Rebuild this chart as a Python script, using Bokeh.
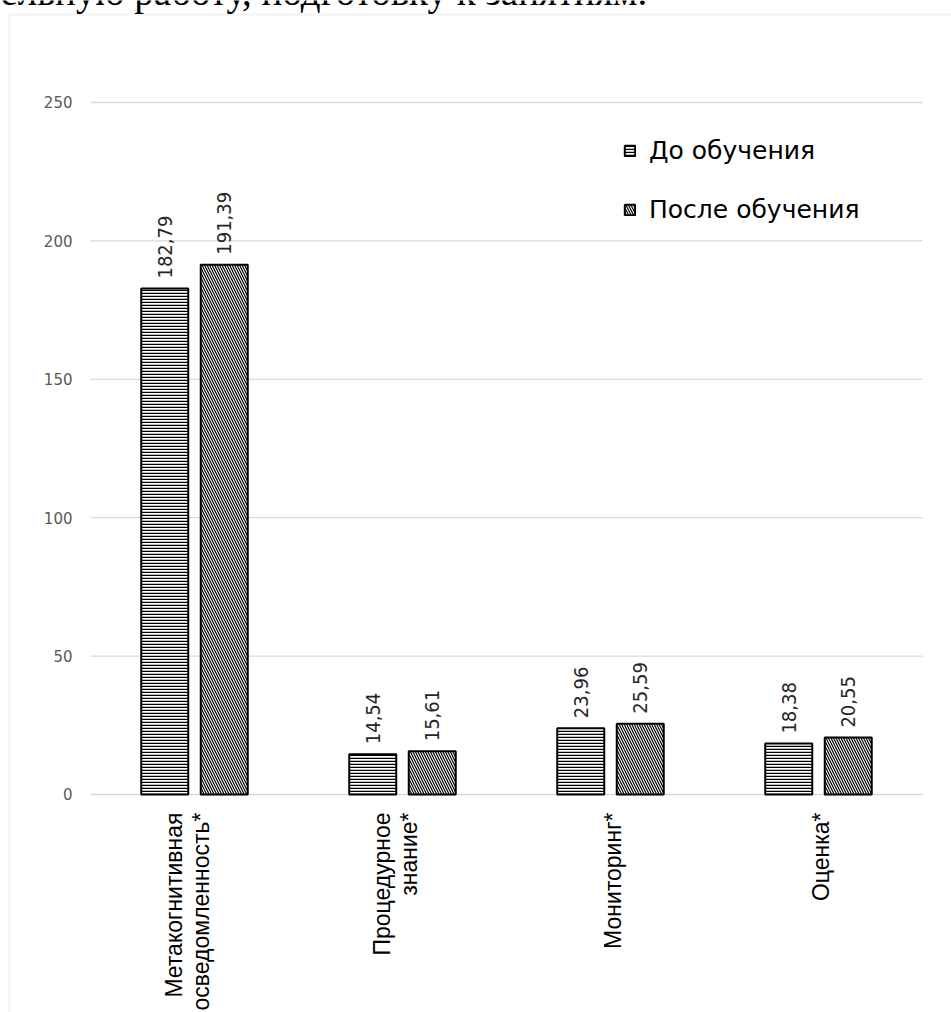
from math import pi
from bokeh.plotting import figure
from bokeh.models import (Range1d, ColumnDataSource, Legend, LegendItem, Label, BoxAnnotation)
from bokeh.core.properties import value
from bokeh.embed import file_html
from bokeh.resources import INLINE

# ---- data ----
categories = ["Метакогнитивная осведомленность*", "Процедурное знание*", "Мониторинг*", "Оценка*"]
category_labels = ["Метакогнитивная\nосведомленность*", "Процедурное\nзнание*", "Мониторинг*", "Оценка*"]
series_names = ["До обучения", "После обучения"]
before = [182.79, 14.54, 23.96, 18.38]
after = [191.39, 15.61, 25.59, 20.55]
before_labels = ["182,79", "14,54", "23,96", "18,38"]
after_labels = ["191,39", "15,61", "25,59", "20,55"]
y_ticks = [0, 50, 100, 150, 200, 250]
y_tick_labels = ["0", "50", "100", "150", "200", "250"]
header_text = "ельную работу, подготовку к занятиям."

n = len(categories)
off = 0.143          # half distance between the two bars of a group (category units)
bw = 0.226           # bar width (category units)
xc = [i + 0.5 for i in range(n)]
src = ColumnDataSource(dict(
    cat=categories, cl=category_labels, xc=xc,
    x1=[x - off for x in xc], x2=[x + off for x in xc],
    before=before, after=after, bl=before_labels, al=after_labels,
    cdx=[-7 if "\n" in s else 2 for s in category_labels],
))
tick_src = ColumnDataSource(dict(y=y_ticks, t=y_tick_labels))

W, H = 951, 1012
p = figure(x_range=Range1d(-90 / 208, n + 29 / 208), y_range=Range1d(-78.76, 286.85),
           width=W, height=H, output_backend="svg", toolbar_location=None,
           x_axis_location=None, y_axis_location=None, min_border=0)
p.margin = (0, 0, 0, 0)
p.outline_line_color = None
p.background_fill_color = "white"
p.border_fill_color = "white"
p.grid.grid_line_color = None

# value grid (category span only) and value tick labels
p.segment(x0=0, x1=n, y0='y', y1='y', source=tick_src, line_color="#d9d9d9", line_width=1.3)
p.text(x=0, y='y', text='t', source=tick_src, x_offset=-18, text_align="right",
       text_baseline="middle", text_font=value("DejaVu Sans"), text_font_size="15px",
       text_color="#595959")

r1 = p.vbar(x='x1', top='before', bottom=0, width=bw, source=src,
            fill_color="white", line_color="black", line_width=2,
            hatch_pattern="horizontal_line", hatch_color="black", hatch_scale=3, hatch_weight=1.5)
r2 = p.vbar(x='x2', top='after', bottom=0, width=bw, source=src,
            fill_color="white", line_color="black", line_width=2,
            hatch_pattern="left_diagonal_line", hatch_color="black", hatch_scale=5, hatch_weight=1.2)

lab_font = value("DejaVu Sans Condensed")
p.text(x='x1', y='before', text='bl', source=src,
       angle=pi / 2, text_align="left", text_baseline="middle", y_offset=-10,
       text_font=lab_font, text_font_size="20px", text_color="#262626")
p.text(x='x2', y='after', text='al', source=src,
       angle=pi / 2, text_align="left", text_baseline="middle", y_offset=-10,
       text_font=lab_font, text_font_size="20px", text_color="#262626")

# category labels (vertical, below the baseline)
p.text(x='xc', y=0, text='cl', source=src, angle=pi / 2, text_align="right",
       text_baseline="middle", x_offset='cdx', y_offset=18, text_font=value("Liberation Sans"),
       text_font_size="23px", text_color="black", text_line_height=1.05)

legend = Legend(items=[LegendItem(label=series_names[0], renderers=[r1]),
                       LegendItem(label=series_names[1], renderers=[r2])],
                location=(623, 788), orientation="vertical",
                border_line_color=None, background_fill_alpha=0,
                padding=0, margin=0, spacing=30,
                glyph_width=13, glyph_height=13, label_standoff=13,
                label_text_font="DejaVu Sans", label_text_font_size="25px",
                label_text_color="black")
p.add_layout(legend)

# chart border and document text above it
p.add_layout(BoxAnnotation(left=9, right=W + 20, top=14, bottom=H + 20,
                           left_units="canvas", right_units="canvas",
                           top_units="canvas", bottom_units="canvas",
                           fill_alpha=0, line_color="#d9d9d9", line_width=2))
p.add_layout(Label(x=0, y=-9, x_units="canvas", y_units="canvas", text=header_text,
                   text_font="Liberation Serif", text_font_size="39px",
                   text_color="black", text_baseline="alphabetic"))

open("out.html", "w").write(file_html(p, INLINE))
